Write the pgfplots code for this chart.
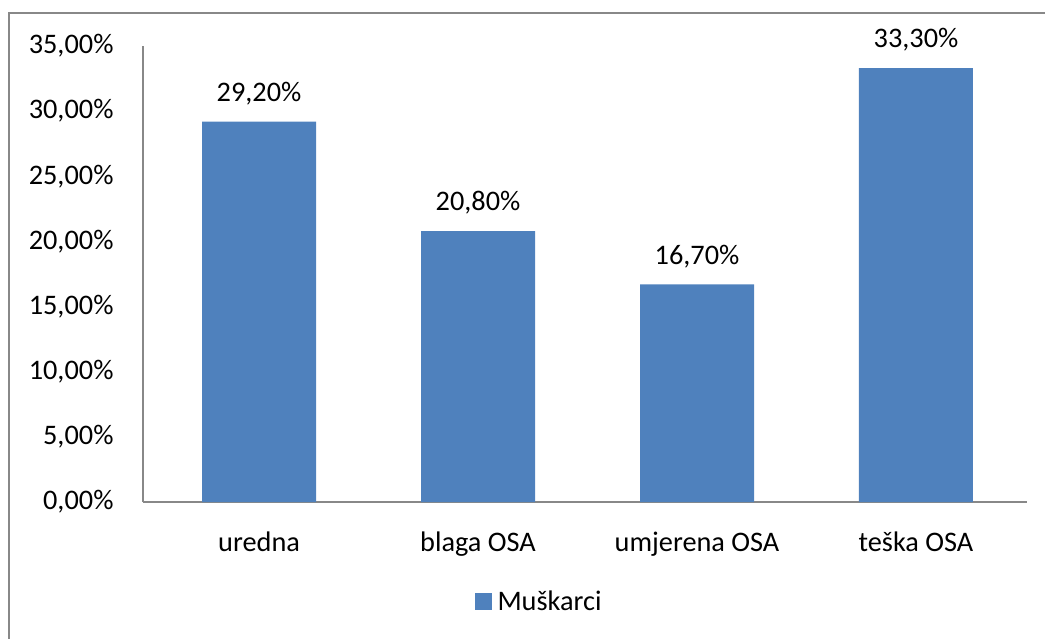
\documentclass[border=0pt]{standalone}
\usepackage{fontspec}
\setmainfont{Carlito}
\usepackage{pgfplots}
\pgfplotsset{compat=1.18}
\definecolor{barblue}{HTML}{4F81BD}
\definecolor{axgray}{HTML}{888888}
\begin{document}
\begin{tikzpicture}[x=1pt,y=1pt]
\useasboundingbox (0,0) rectangle (1045,-639);
\draw[axgray,line width=1.6pt] (8.8,-700) -- (8.8,-13.2) -- (1100,-13.2);
\begin{axis}[
  at={(143pt,-502pt)}, anchor=south west,
  scale only axis, width=884pt, height=456pt,
  xmin=-0.53, xmax=3.507, ymin=0, ymax=35,
  axis x line*=bottom, axis y line*=left,
  axis line style={axgray,line width=1.3pt},
  xtick={0,1,2,3},
  xticklabels={uredna,blaga OSA,umjerena OSA,teška OSA},
  ytick={0,5,...,35},
  major tick length=0pt,
  /pgf/number format/assume math mode=true,
  yticklabel={\pgfmathprintnumber[fixed,fixed zerofill,precision=2,use comma]{\tick}\%},
  yticklabel style={xshift=-26pt},
  xticklabel style={yshift=-26pt},
  tick label style={font=\fontsize{28.3}{34}\selectfont},
  ybar, bar width=114pt,
  nodes near coords={\pgfmathprintnumber[fixed,fixed zerofill,precision=2,use comma]{\pgfplotspointmeta}\%},
  nodes near coords style={font=\fontsize{28.3}{34}\selectfont, anchor=south, yshift=13pt},
  legend style={at={(0.448,-0.219)}, anchor=center, draw=none, font=\fontsize{28.3}{34}\selectfont,
    legend cell align=left, /tikz/every even column/.style={column sep=0pt}},
  legend image code/.code={\fill[barblue] (0pt,-8.5pt) rectangle (17pt,8.5pt); \path (21pt,0pt);},
  clip=false,
]
\addplot[fill=barblue, draw=none] coordinates {(0,29.2) (1,20.8) (2,16.7) (3,33.3)};
\addlegendentry{Muškarci}
\end{axis}
\end{tikzpicture}
\end{document}
